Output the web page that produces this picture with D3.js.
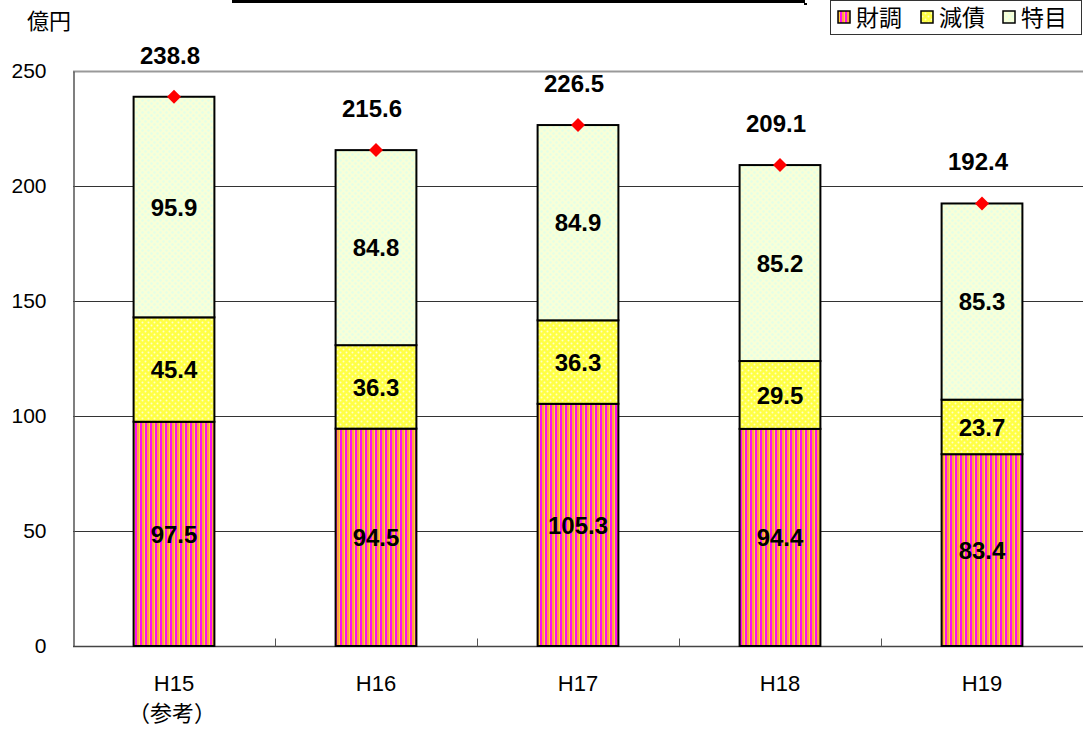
<!DOCTYPE html>
<html>
<head>
<meta charset="utf-8">
<script src="https://cdn.jsdelivr.net/npm/d3@7"></script>
<style>
  body { margin: 0; background: #fff; }
  svg { display: block; }
  .num { font-family: "Liberation Sans", Arial, sans-serif; }
  .jp { font-family: "Noto Sans CJK JP", sans-serif; }
</style>
</head>
<body>
<div id="chart"></div>
<script>
// data
const years = ["H15", "H16", "H17", "H18", "H19"];
const zaicho = [97.5, 94.5, 105.3, 94.4, 83.4];   // 財調
const gensai = [45.4, 36.3, 36.3, 29.5, 23.7];    // 減債
const tokumoku = [95.9, 84.8, 84.9, 85.2, 85.3];  // 特目
const totals = [238.8, 215.6, 226.5, 209.1, 192.4];
const seriesNames = ["財調", "減債", "特目"];
const yTicks = [0, 50, 100, 150, 200, 250];

const width = 1083, height = 729;
const margin = { top: 71, bottom: 83, left: 73, right: 0 };

const svg = d3.select("#chart").append("svg")
  .attr("width", width).attr("height", height);

// patterns
const defs = svg.append("defs");
const pStripe = defs.append("pattern").attr("id", "pStripe")
  .attr("patternUnits", "userSpaceOnUse").attr("width", 5).attr("height", 4);
pStripe.append("rect").attr("width", 5).attr("height", 4).attr("fill", "#ffa040");
pStripe.append("rect").attr("width", 2).attr("height", 4).attr("fill", "#ff10f0");
pStripe.append("rect").attr("x", 4).attr("width", 1).attr("height", 4).attr("fill", "#ffd040");

const pDots = defs.append("pattern").attr("id", "pDots")
  .attr("patternUnits", "userSpaceOnUse").attr("width", 6).attr("height", 6);
pDots.append("rect").attr("width", 6).attr("height", 6).attr("fill", "#ffff44");
pDots.append("circle").attr("cx", 1.5).attr("cy", 1.5).attr("r", 1).attr("fill", "#ffffc8");
pDots.append("circle").attr("cx", 4.5).attr("cy", 4.5).attr("r", 1).attr("fill", "#ffffc8");

const pLight = defs.append("pattern").attr("id", "pLight")
  .attr("patternUnits", "userSpaceOnUse").attr("width", 6).attr("height", 6);
pLight.append("rect").attr("width", 6).attr("height", 6).attr("fill", "#f8ffd8");
pLight.append("circle").attr("cx", 1.5).attr("cy", 1.5).attr("r", 1.2).attr("fill", "#e2ffe8");
pLight.append("circle").attr("cx", 4.5).attr("cy", 4.5).attr("r", 1.2).attr("fill", "#e2ffe8");

const fills = ["url(#pStripe)", "url(#pDots)", "url(#pLight)"];

// scales
const scaleX = d3.scaleBand(years, [margin.left, width - margin.right]).padding(0);
const scaleY = d3.scaleLinear([0, 250], [height - margin.bottom, margin.top]);
const barW = scaleX.bandwidth() * 0.4;

// top decorative line
svg.append("rect").attr("x", 232).attr("y", 0).attr("width", 573).attr("height", 3).attr("fill", "#000");
svg.append("rect").attr("x", 804).attr("y", 3).attr("width", 3).attr("height", 2).attr("fill", "#000");

// gridlines
svg.append("g").selectAll("line")
  .data(yTicks.filter(d => d > 0))
  .join("line")
  .attr("x1", margin.left).attr("x2", width - margin.right)
  .attr("y1", d => scaleY(d) + 0.5).attr("y2", d => scaleY(d) + 0.5)
  .attr("stroke", d => d === 250 ? "#999" : "#333")
  .attr("stroke-width", d => d === 250 ? 2 : 1);

// y axis
const axisY = svg.append("g")
  .attr("transform", `translate(${margin.left + 0.5},0)`)
  .call(d3.axisLeft(scaleY).tickValues(yTicks).tickSize(0).tickPadding(27));
axisY.select(".domain").attr("stroke", "#555").attr("stroke-width", 1.5);
axisY.selectAll("text").attr("class", "num").attr("font-size", 21).attr("fill", "#000");

// x axis
const axisX = svg.append("g")
  .attr("transform", `translate(0,${scaleY(0) + 0.5})`);
axisX.append("line").attr("x1", margin.left).attr("x2", width - margin.right)
  .attr("stroke", "#444").attr("stroke-width", 1.5);
axisX.selectAll("line.tk")
  .data(years.slice(1))
  .join("line").attr("class", "tk")
  .attr("x1", d => scaleX(d) + 0.5).attr("x2", d => scaleX(d) + 0.5)
  .attr("y1", 0).attr("y2", -8).attr("stroke", "#555");
axisX.selectAll("text.yr")
  .data(years)
  .join("text").attr("class", "yr num")
  .attr("x", d => scaleX(d) + scaleX.bandwidth() / 2)
  .attr("y", 44)
  .attr("text-anchor", "middle").attr("font-size", 22)
  .text(d => d);
axisX.append("text").attr("class", "jp")
  .attr("x", scaleX(years[0]) + scaleX.bandwidth() / 2 - 2)
  .attr("y", 74).attr("text-anchor", "middle").attr("font-size", 22)
  .text("（参考）");

// stacked bars
const rows = years.map((y, i) => ({ year: y, v: [zaicho[i], gensai[i], tokumoku[i]] }));
const segs = [];
rows.forEach(r => {
  let base = 0;
  r.v.forEach((v, k) => { segs.push({ year: r.year, k, y0: base, y1: base + v, v }); base += v; });
});

const chart = svg.append("g");
chart.selectAll("rect.seg")
  .data(segs)
  .join("rect").attr("class", "seg")
  .attr("x", d => scaleX(d.year) + scaleX.bandwidth() / 2 - barW / 2)
  .attr("y", d => scaleY(d.y1))
  .attr("width", barW)
  .attr("height", d => scaleY(d.y0) - scaleY(d.y1))
  .attr("fill", d => fills[d.k])
  .attr("stroke", "#000").attr("stroke-width", 2);

chart.selectAll("text.segv")
  .data(segs)
  .join("text").attr("class", "segv num")
  .attr("x", d => scaleX(d.year) + scaleX.bandwidth() / 2)
  .attr("y", d => scaleY((d.y0 + d.y1) / 2))
  .attr("dy", "0.36em")
  .attr("text-anchor", "middle").attr("font-size", 24).attr("font-weight", "bold")
  .text(d => d.v.toFixed(1));

// totals markers
chart.selectAll("path.dia")
  .data(totals)
  .join("path").attr("class", "dia")
  .attr("transform", (d, i) => `translate(${scaleX(years[i]) + scaleX.bandwidth() / 2},${scaleY(d)})`)
  .attr("d", "M0,-7L7,0L0,7L-7,0Z")
  .attr("fill", "#ff0000");

chart.selectAll("text.tot")
  .data(totals)
  .join("text").attr("class", "tot num")
  .attr("x", (d, i) => scaleX(years[i]) + scaleX.bandwidth() / 2 - 4)
  .attr("y", d => scaleY(d) - 33)
  .attr("text-anchor", "middle").attr("font-size", 24).attr("font-weight", "bold")
  .text(d => d.toFixed(1));

// unit label
svg.append("text").attr("class", "jp")
  .attr("x", 27).attr("y", 29).attr("font-size", 22).text("億円");

// legend
const legend = svg.append("g");
legend.append("rect").attr("x", 830.5).attr("y", 0.5).attr("width", 251).attr("height", 34)
  .attr("fill", "#fff").attr("stroke", "#333").attr("stroke-width", 1);
const legX = [838, 921, 1003];
seriesNames.forEach((n, k) => {
  legend.append("rect").attr("x", legX[k]).attr("y", 11).attr("width", 12).attr("height", 12)
    .attr("fill", fills[k]).attr("stroke", "#000").attr("stroke-width", 1.5);
  legend.append("text").attr("class", "jp").attr("x", legX[k] + 18).attr("y", 26)
    .attr("font-size", 23).text(n);
});
</script>
</body>
</html>
